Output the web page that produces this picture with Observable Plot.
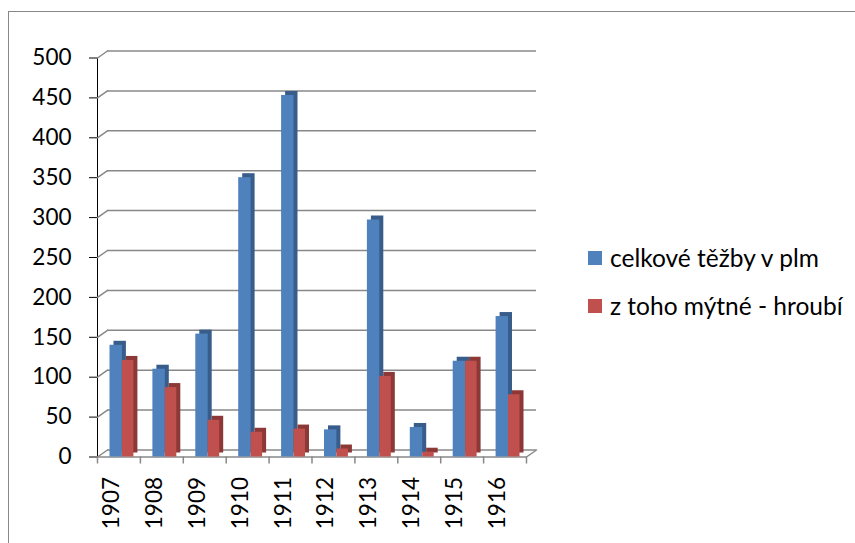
<!DOCTYPE html>
<html>
<head>
<meta charset="utf-8">
<script src="https://cdn.jsdelivr.net/npm/d3@7"></script>
<script src="https://cdn.jsdelivr.net/npm/@observablehq/plot@0.6"></script>
<style>
  html, body { margin: 0; padding: 0; background: #fff; overflow: hidden; }
  #chart { position: relative; width: 855px; height: 543px; overflow: hidden; font-family: Lato, "Open Sans", sans-serif; }
  #border { position: absolute; left: 8px; top: 11px; width: 900px; height: 600px; border-left: 1px solid #888; border-top: 1px solid #888; }
  #plot { position: absolute; left: 0; top: 0; }
  #legend { position: absolute; left: 588px; top: 244px; font-size: 24.5px; color: #000; }
  .item { display: flex; align-items: center; height: 28px; margin-bottom: 20px; white-space: nowrap; line-height: 1; }
  .swatch { width: 14px; height: 14px; margin-right: 8px; flex: none; }
</style>
</head>
<body>
<div id="chart">
  <div id="border"></div>
  <div id="plot"></div>
  <div id="legend"></div>
</div>
<script>
// Timber harvest by year (plm), total and the toll-share portion
const years = ["1907", "1908", "1909", "1910", "1911", "1912", "1913", "1914", "1915", "1916"];
const totalHarvest = [140, 110, 154, 350, 453, 34, 297, 37, 120, 176];
const tollHarvest = [121, 87, 46, 31, 35, 10, 101, 6, 120, 78];
const yTicks = [0, 50, 100, 150, 200, 250, 300, 350, 400, 450, 500];
const seriesNames = ["celkové těžby v plm", "z toho mýtné - hroubí"];

const colors = {front: ["#4F81BD", "#C0504D"], side: ["#385D8A", "#8C3836"]};
const gridColor = "#888";

const data = years.map((year, i) => ({year, total: totalHarvest[i], toll: tollHarvest[i]}));

const width = 560, height = 543;
const marginLeft = 97, marginRight = 34, marginTop = 57.5, marginBottom = 86.5;
const bw = (width - marginLeft - marginRight) / years.length; // band width in px
const depth = 4; // extrusion of the 3-D columns

// short diagonal stroke used for the wall/floor edges
const edge = {draw(context, l) { context.moveTo(0, 0); context.lineTo(0, -l); }};
const line = {stroke: gridColor, strokeWidth: 1.5};

const chart = Plot.plot({
  width, height, marginLeft, marginRight, marginTop, marginBottom,
  style: {background: "transparent", fontFamily: "Lato, sans-serif", fontSize: "22.5px", color: "#000"},
  x: {domain: years, padding: 0, round: false, axis: null},
  y: {domain: [0, 500], ticks: 10, tickSize: 8, tickPadding: 18, line: true},
  marks: [
    // back-wall gridlines and the edges joining them to the value axis
    Plot.ruleY(yTicks, {y: d => d, dx: 10, dy: -7, ...line}),
    Plot.vector(yTicks, {y: d => d, frameAnchor: "left", length: 12.2, rotate: 55, anchor: "start", shape: edge, ...line}),
    Plot.vector([0], {y: d => d, frameAnchor: "right", length: 12.2, rotate: 55, anchor: "start", shape: edge, ...line}),
    // category axis: baseline, ticks between the years, labels
    Plot.ruleY([0], line),
    Plot.ruleX(years, {x: d => d, y1: 0, y2: 0, insetBottom: -7, dx: -bw / 2, ...line}),
    Plot.ruleX([years[years.length - 1]], {x: d => d, y1: 0, y2: 0, insetBottom: -7, dx: bw / 2, ...line}),
    Plot.text(years, {x: d => d, frameAnchor: "bottom", rotate: -90, textAnchor: "end", dy: 20, fontSize: 22.5, fill: "#000"}),
    // total harvest columns (extruded side, then front face)
    Plot.barY(data, {x: "year", y: "total", fill: colors.side[0], insetLeft: 12.5, insetRight: 18, dx: depth, dy: -depth}),
    Plot.barY(data, {x: "year", y: "total", fill: colors.front[0], insetLeft: 12.5, insetRight: 18}),
    // toll-share columns
    Plot.barY(data, {x: "year", y: "toll", fill: colors.side[1], insetLeft: bw - 18, insetRight: 6.5, dx: depth, dy: -depth}),
    Plot.barY(data, {x: "year", y: "toll", fill: colors.front[1], insetLeft: bw - 18, insetRight: 6.5})
  ]
});
document.getElementById("plot").append(chart);

// legend to the right of the plot
const legend = d3.select("#legend");
seriesNames.forEach((name, i) => {
  const item = legend.append("div").attr("class", "item");
  item.append("div").attr("class", "swatch").style("background", colors.front[i]);
  item.append("span").text(name);
});
</script>
</body>
</html>
